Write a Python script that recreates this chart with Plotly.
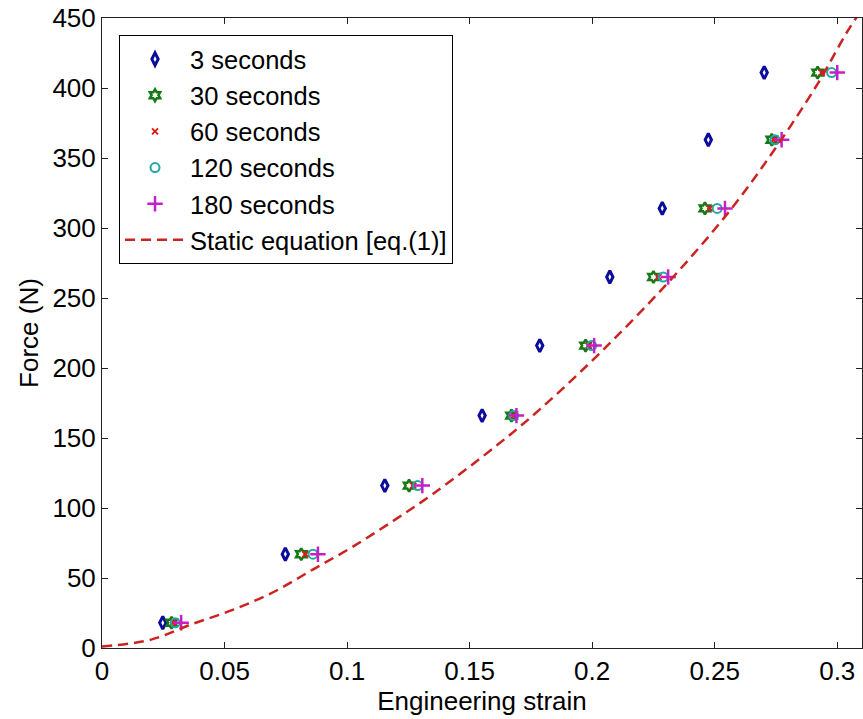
import plotly.graph_objects as go

# ---- data ----
force = [18, 67, 116, 166, 216, 265, 314, 363, 411]

strain_3s = [0.0248, 0.0748, 0.1154, 0.1551, 0.1786, 0.2072, 0.2286, 0.2474, 0.2702]
strain_30s = [0.0284, 0.0813, 0.1253, 0.1671, 0.1973, 0.2250, 0.2460, 0.2733, 0.2920]
strain_60s = [0.0290, 0.0830, 0.1270, 0.1680, 0.1985, 0.2270, 0.2480, 0.2740, 0.2937]
strain_120s = [0.0299, 0.0861, 0.1288, 0.1680, 0.1998, 0.2290, 0.2510, 0.2746, 0.2977]
strain_180s = [0.0323, 0.0881, 0.1307, 0.1691, 0.2008, 0.2310, 0.2542, 0.2773, 0.3000]

static_strain = [0.0, 0.02, 0.036, 0.053, 0.070, 0.086, 0.102, 0.119, 0.135, 0.162,
                 0.179, 0.2045, 0.232, 0.256, 0.274, 0.292, 0.304, 0.31]
static_force = [1, 6, 16.6, 27, 40, 56, 72, 91, 110, 146,
                171, 213, 263, 312, 355, 403, 440, 456]

x_ticks = [0, 0.05, 0.1, 0.15, 0.2, 0.25, 0.3]
x_tick_labels = ["0", "0.05", "0.1", "0.15", "0.2", "0.25", "0.3"]
y_ticks = [0, 50, 100, 150, 200, 250, 300, 350, 400, 450]

FONT = "Liberation Sans, Arial, sans-serif"
FS = 26

fig = go.Figure()
fig.add_trace(go.Scatter(x=strain_3s, y=force, mode="markers", name="3 seconds",
                         marker=dict(symbol="diamond-tall-open", size=9, color="#0c0c9c",
                                     line=dict(width=3, color="#0c0c9c"))))
fig.add_trace(go.Scatter(x=strain_30s, y=force, mode="markers", name="30 seconds",
                         marker=dict(symbol="hexagram-open", size=9, color="#157a15",
                                     line=dict(width=2.5, color="#157a15"))))
fig.add_trace(go.Scatter(x=strain_60s, y=force, mode="markers", name="60 seconds",
                         marker=dict(symbol="x-thin-open", size=6, color="#dd1a1a",
                                     line=dict(width=2, color="#dd1a1a"))))
fig.add_trace(go.Scatter(x=strain_120s, y=force, mode="markers", name="120 seconds",
                         marker=dict(symbol="circle-open", size=9, color="#22a8a8",
                                     line=dict(width=2, color="#22a8a8"))))
fig.add_trace(go.Scatter(x=strain_180s, y=force, mode="markers", name="180 seconds",
                         marker=dict(symbol="cross-thin-open", size=11, color="#c81ec8",
                                     line=dict(width=2.5, color="#c81ec8"))))
fig.add_trace(go.Scatter(x=static_strain, y=static_force, mode="lines",
                         name="Static equation [eq.(1)]", line_shape="spline",
                         line=dict(color="#cc2222", width=2.5, dash="10px,6px")))

axis_common = dict(showline=True, linecolor="#222222", linewidth=1, mirror="ticks",
                   ticks="inside", ticklen=6, tickcolor="#222222", showgrid=False,
                   zeroline=False, tickfont=dict(family=FONT, size=FS, color="black"))

fig.update_layout(
    width=863, height=719,
    margin=dict(l=102, r=1, t=18, b=71),
    paper_bgcolor="white", plot_bgcolor="white",
    font=dict(family=FONT, size=FS, color="black"),
    xaxis=dict(range=[0, 0.3101], tickvals=x_ticks, ticktext=x_tick_labels,
               title=dict(text="Engineering strain", font=dict(family=FONT, size=FS), standoff=2),
               **axis_common),
    yaxis=dict(range=[0, 450], tickvals=y_ticks,
               title=dict(text="Force (N)", font=dict(family=FONT, size=FS), standoff=6),
               **axis_common),
    legend=dict(x=0.0224, y=0.973, xanchor="left", yanchor="top",
                bgcolor="white", bordercolor="black", borderwidth=1,
                font=dict(family=FONT, size=25.5, color="black"),
                itemwidth=60, tracegroupgap=0),
    showlegend=True,
)

fig.write_html("out.html")
